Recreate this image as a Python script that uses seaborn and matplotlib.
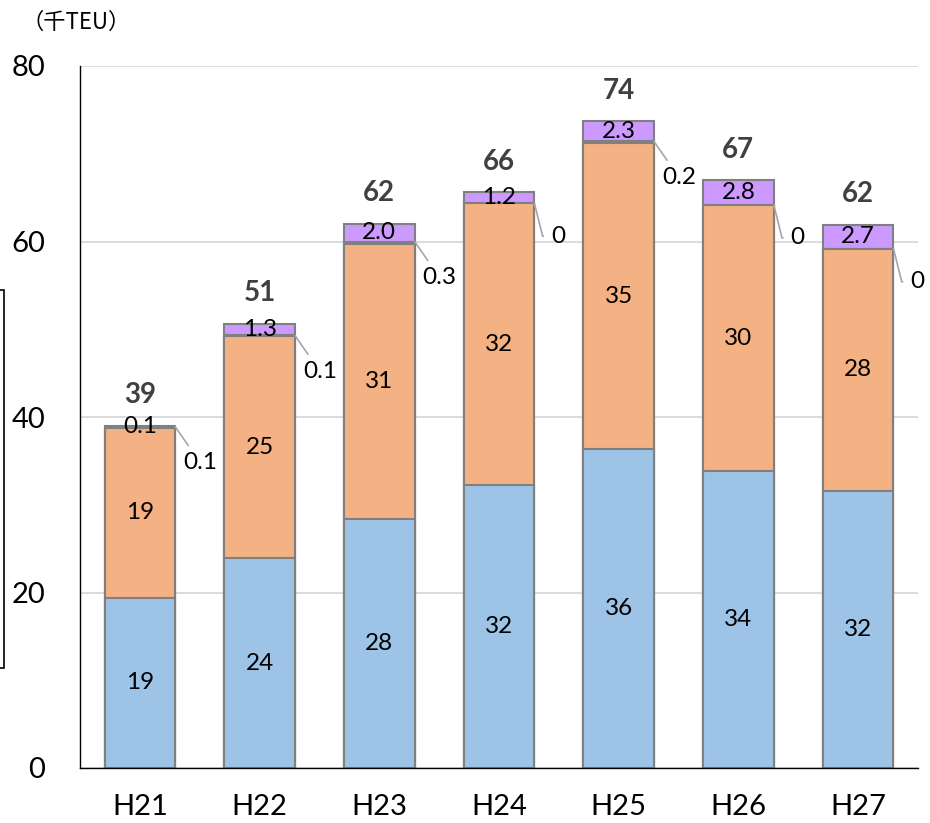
import numpy as np
import pandas as pd
import matplotlib
matplotlib.use('Agg')
import matplotlib.pyplot as plt
import seaborn as sns
from matplotlib.patches import Rectangle

sns.set_style('white')
plt.rcParams['font.family'] = ['Lato', 'Noto Sans CJK JP', 'DejaVu Sans']
plt.rcParams['text.color'] = 'black'
plt.rcParams['xtick.color'] = 'black'
plt.rcParams['ytick.color'] = 'black'

# データ（千TEU）
years = ['H21', 'H22', 'H23', 'H24', 'H25', 'H26', 'H27']
blue = [19.4, 23.9, 28.4, 32.2, 36.3, 33.8, 31.6]
orange = [19.4, 25.3, 31.3, 32.2, 34.9, 30.4, 27.6]
grey = [0.1, 0.1, 0.3, 0.0, 0.2, 0.0, 0.0]
purple = [0.1, 1.3, 2.0, 1.2, 2.3, 2.8, 2.7]

df = pd.DataFrame({'year': years, 'blue': blue, 'orange': orange, 'grey': grey, 'purple': purple})
df['c_blue'] = df['blue']
df['c_orange'] = df['c_blue'] + df['orange']
df['c_grey'] = df['c_orange'] + df['grey']
df['c_purple'] = df['c_grey'] + df['purple']

colors = {'c_purple': '#CC99FF', 'c_grey': '#808080', 'c_orange': '#F4B183', 'c_blue': '#9DC3E6'}
edge = '#808080'
bw = 0.59

fig = plt.figure(figsize=(9.3, 8.23), dpi=100)
ax = fig.add_axes([80 / 930, 55 / 823, 838 / 930, 702 / 823])

# 累積値を上から順に重ねて描く
for col in ['c_purple', 'c_grey', 'c_orange', 'c_blue']:
    sns.barplot(data=df, x='year', y=col, color=colors[col], width=bw,
                edgecolor=edge, linewidth=1.5, saturation=1, ax=ax)

ax.set_xlim(-0.5, 6.5)
ax.set_ylim(0, 80)
ax.set_yticks([0, 20, 40, 60, 80])
ax.yaxis.grid(True, color='#D9D9D9', lw=1.3)
ax.set_axisbelow(True)
for s in ['top', 'right']:
    ax.spines[s].set_visible(False)
ax.spines['left'].set_color('black')
ax.spines['bottom'].set_color('black')
ax.spines['left'].set_linewidth(1.0)
ax.spines['bottom'].set_linewidth(1.0)

ax.set_xticks(np.arange(-0.5, 7, 1))
ax.set_xticklabels([])
ax.set_xticks(range(len(years)), minor=True)
ax.set_xticklabels(years, minor=True)
ax.tick_params(axis='x', which='major', direction='in', length=6.5, width=1, color='black')
ax.tick_params(axis='x', which='minor', length=0, pad=19, labelsize=21)
ax.tick_params(axis='y', direction='out', length=6, width=1, color='black', pad=19, labelsize=21)
ax.set_xlabel('')
ax.set_ylabel('')

for i in range(len(years)):
    r = df.iloc[i]
    ax.text(i, r['blue'] / 2, f"{r['blue']:.0f}", ha='center', va='center', fontsize=17.5)
    ax.text(i, r['c_blue'] + r['orange'] / 2, f"{r['orange']:.0f}", ha='center', va='center', fontsize=17.5)
    ax.text(i, r['c_grey'] + r['purple'] / 2, f"{r['purple']:.1f}", ha='center', va='center', fontsize=17.5)
    ax.annotate(f"{r['c_purple']:.0f}", (i, r['c_purple']), xytext=(0, 22), textcoords='offset points',
                ha='center', va='center', fontsize=20, fontweight='bold', color='#404040')
    g = r['grey']
    glabel = '0' if g == 0 else f'{g:.1f}'
    if g == 0:
        cs = 'angle,angleA=0,angleB=-76,rad=0'
        off = (17, -24)
    else:
        cs = 'arc3'
        off = (18, -26)
    ax.annotate(glabel, (i + bw / 2, r['c_grey']), xytext=off, textcoords='offset points',
                ha='center', va='center', fontsize=17.5,
                arrowprops=dict(arrowstyle='-', color='#A6A6A6', lw=1.2, connectionstyle=cs,
                                shrinkA=3, shrinkB=0))

# 単位
fig.text(76 / 930, 1 - 22 / 823, '（千TEU）', ha='center', va='center', fontsize=16,
         family=['Noto Sans CJK JP', 'DejaVu Sans'])

# 左端の切れた枠
fig.patches.append(Rectangle((-10 / 930, 155 / 823), 13.5 / 930, 378 / 823, fill=False,
                             ec='black', lw=1.2, transform=fig.transFigure, figure=fig))

fig.savefig('out.png', dpi=100)
